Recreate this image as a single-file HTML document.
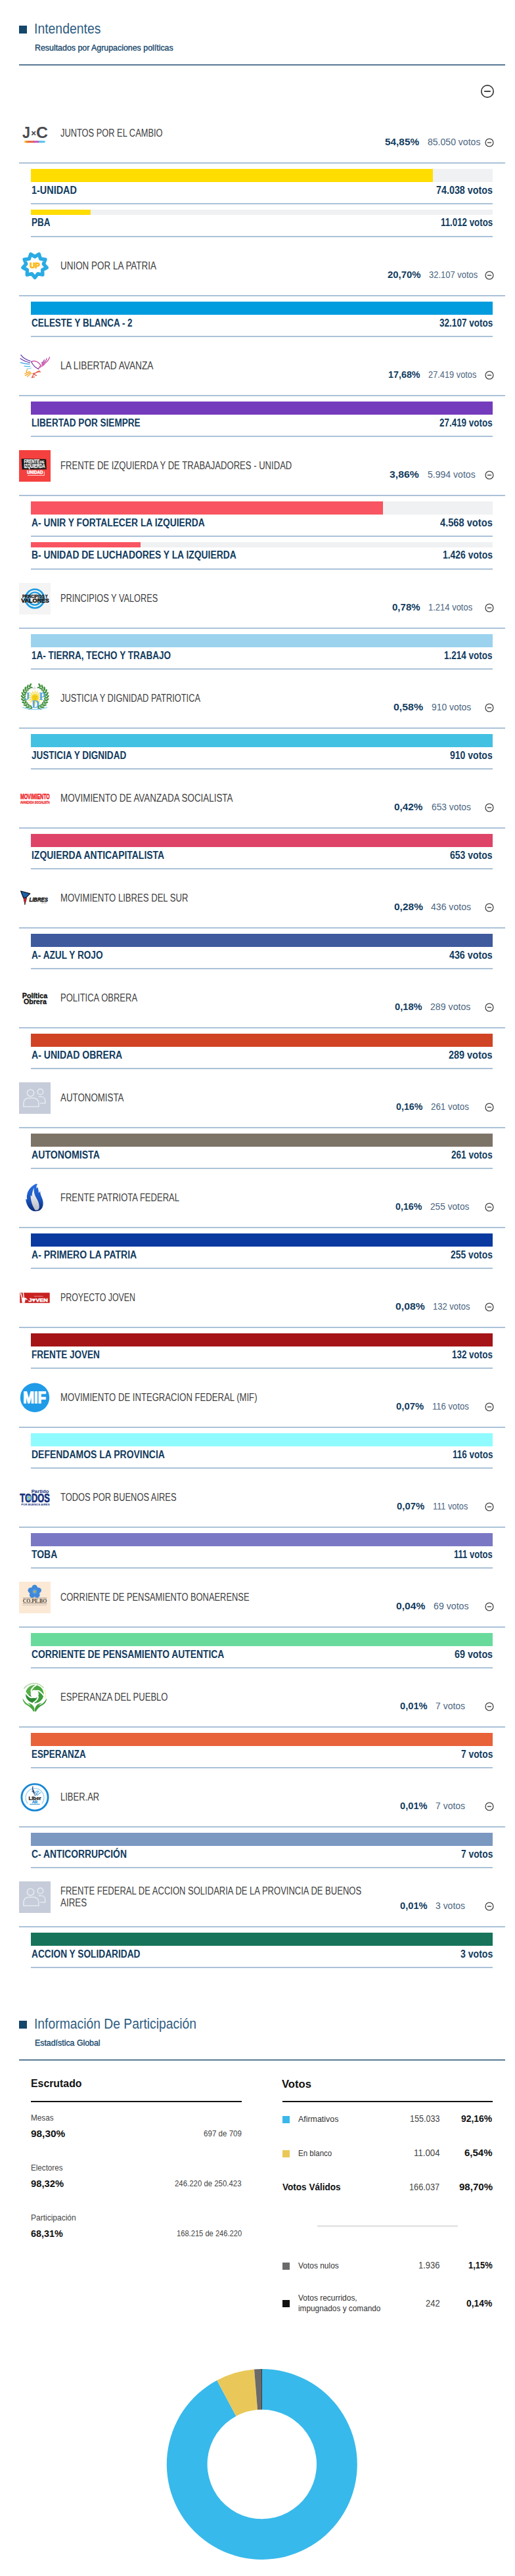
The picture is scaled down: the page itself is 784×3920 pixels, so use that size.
<!DOCTYPE html>
<html lang="es"><head><meta charset="utf-8"><title>Resultados - Intendentes</title>
<style>
html,body{margin:0;padding:0;background:#fff}
body{font-family:"Liberation Sans",sans-serif;color:#15466b}
.page{position:relative;width:784px;height:3920px;overflow:hidden;background:#fff}
.t{display:inline-block;white-space:nowrap;vertical-align:baseline}
.t>span{display:inline-block;transform-origin:0 50%;white-space:nowrap}
.sq{position:absolute;width:12px;height:12px;background:#15466b}
h2.ttl,p.sub{position:absolute;margin:0;font-weight:400;white-space:nowrap}
h2.ttl{font-size:22px;line-height:30px;color:#2f5d81}
p.sub{font-size:13px;line-height:18px;color:#15466b;-webkit-text-stroke:0.35px #15466b}
.hr{position:absolute;left:29px;width:740px;height:2px;background:linear-gradient(#1d4a6d 0,#1d4a6d 50%,rgba(29,74,109,.45) 50%)}
.tgl{position:absolute;width:22px;height:22px}
.tgl svg{display:block}
.list{position:absolute;left:0;width:784px}
.party{display:block;margin:0}
.ph{position:relative;margin-left:29px;width:740px;height:88px;border-bottom:2px solid #abc2d8}
.logo{position:absolute;left:0;top:20px;width:48px;height:48px}
.logo svg{display:block}
.pn{position:absolute;left:62.6px;top:34.6px;font-size:15.6px;line-height:18.3px;color:#3e3e3e}
.pn.two{top:26px}
.pr{position:absolute;left:529.4px;width:200px;top:47.5px;height:18px;display:flex;justify-content:center;align-items:baseline;white-space:nowrap;line-height:18px}
.pct{font-size:14.5px;font-weight:700;color:#123c60;margin-right:12.6px}
.pv{font-size:14px;color:#4b6580}
.ic{position:absolute;left:708.6px;top:50.5px}
.rows{list-style:none;margin:0 0 0 47px;padding:0;width:703px}
.row{height:52px;padding-top:8px;border-bottom:2px solid #abc2d8}
.row.sm{height:40px}
.track{height:20px;background:#f0f1f3}
.row.sm .track{height:7.5px}
.fill{height:100%}
.rl{position:relative;height:32px}
.ln,.lv{position:absolute;top:3.9px;font-size:15.6px;font-weight:700;line-height:17px;color:#123c60}
.ln{left:0.6px}
.lv{right:0}
.abs{position:absolute;white-space:nowrap;margin:0}
.bl{position:absolute;height:2px;background:#111}
.gl{position:absolute;height:3px;background:#e6e6e6}
.lsq{position:absolute;width:11px;height:11px}

</style></head>
<body>
<div class="page">
<div class="sq" style="left:29px;top:39px"></div>
<h2 class="ttl" style="left:52px;top:28.9px"><span class="t" style="width:101.40px"><span style="transform:scaleX(0.8819)">Intendentes</span></span></h2>
<p class="sub" style="left:52.6px;top:64.4px"><span class="t" style="width:210.70px"><span style="transform:scaleX(0.9528)">Resultados por Agrupaciones políticas</span></span></p>
<div class="hr" style="top:98px"></div>
<div class="tgl" style="left:730.7px;top:128px"><svg width="22" height="22" viewBox="0 0 22 22"><circle cx="11" cy="11" r="9.2" fill="none" stroke="#3a3a3a" stroke-width="1.7"/><path d="M6.2 11H15.8" stroke="#3a3a3a" stroke-width="1.9"/></svg></div>
<div class="list" style="top:159px">
<section class="party">
<header class="ph"><div class="logo"><svg width="48" height="48" viewBox="0 0 48 48"><g font-family="Liberation Sans, sans-serif" font-weight="700" fill="#4b4b4f"><text x="5.1" y="30.8" font-size="24" textLength="12" lengthAdjust="spacingAndGlyphs">J</text><text x="26" y="30.8" font-size="24" textLength="18" lengthAdjust="spacingAndGlyphs">C</text><text x="18.4" y="28" font-size="12.5" fill="#4b4b4f" stroke="#4b4b4f" stroke-width="0.3">×</text></g><rect x="8.1" y="35.3" width="7" height="2.9" rx="1.45" fill="#f6a623"/><rect x="12" y="35.3" width="11" height="2.9" fill="#ea5b3a"/><rect x="22" y="35.3" width="9" height="2.9" fill="#c64fb3"/><rect x="30" y="35.3" width="9.9" height="2.9" rx="1.45" fill="#5bc2ea"/><rect x="30" y="35.3" width="5" height="2.9" fill="#5bc2ea"/><rect x="11" y="35.3" width="3" height="2.9" fill="#f08a2c"/></svg></div><div class="pn"><span class="t" style="width:155.50px"><span style="transform:scaleX(0.8232)">JUNTOS POR EL CAMBIO</span></span></div><div class="pr"><b class="pct"><span class="t" style="width:52.10px"><span style="transform:scaleX(1.0592)">54,85%</span></span></b><span class="pv"><span class="t" style="width:80.40px"><span style="transform:scaleX(1.0028)">85.050 votos</span></span></span></div><svg class="ic" width="14" height="14" viewBox="0 0 14 14"><circle cx="7" cy="7" r="5.95" fill="none" stroke="#444" stroke-width="1.3"/><path d="M3.9 7H10.1" stroke="#444" stroke-width="1.4"/></svg></header>
<ul class="rows">
<li class="row"><div class="track"><div class="fill" style="width:87.052%;background:#ffdd00"></div></div><div class="rl"><span class="ln"><span class="t" style="width:68.90px"><span style="transform:scaleX(0.9246)">1-UNIDAD</span></span></span><span class="lv"><span class="t" style="width:86.00px"><span style="transform:scaleX(0.9186)">74.038 votos</span></span></span></div></li>
<li class="row sm"><div class="track"><div class="fill" style="width:12.948%;background:#ffdd00"></div></div><div class="rl"><span class="ln"><span class="t" style="width:28.50px"><span style="transform:scaleX(0.8653)">PBA</span></span></span><span class="lv"><span class="t" style="width:79.20px"><span style="transform:scaleX(0.8538)">11.012 votos</span></span></span></div></li>
</ul></section>
<section class="party">
<header class="ph"><div class="logo"><svg width="48" height="48" viewBox="0 0 48 48"><polygon points="24.05,41.45 19.47,35.64 12.22,37.15 12.45,29.75 5.93,26.25 10.85,20.72 8.12,13.85 15.44,12.79 17.76,5.76 24.05,9.65 30.34,5.76 32.66,12.79 39.98,13.85 37.25,20.72 42.17,26.25 35.65,29.75 35.88,37.15 28.63,35.64" fill="#fff" stroke="#2aabe4" stroke-width="5.4" stroke-linejoin="round"/><text x="24.05" y="27.4" font-family="Liberation Sans, sans-serif" font-weight="700" font-size="11.4" fill="#fbb915" stroke="#fbb915" stroke-width="1" text-anchor="middle" textLength="15.4" lengthAdjust="spacingAndGlyphs">UP</text></svg></div><div class="pn"><span class="t" style="width:146.00px"><span style="transform:scaleX(0.8625)">UNION POR LA PATRIA</span></span></div><div class="pr"><b class="pct"><span class="t" style="width:50.50px"><span style="transform:scaleX(1.0267)">20,70%</span></span></b><span class="pv"><span class="t" style="width:74.20px"><span style="transform:scaleX(0.9255)">32.107 votos</span></span></span></div><svg class="ic" width="14" height="14" viewBox="0 0 14 14"><circle cx="7" cy="7" r="5.95" fill="none" stroke="#444" stroke-width="1.3"/><path d="M3.9 7H10.1" stroke="#444" stroke-width="1.4"/></svg></header>
<ul class="rows">
<li class="row"><div class="track"><div class="fill" style="width:100.000%;background:#009cde"></div></div><div class="rl"><span class="ln"><span class="t" style="width:153.60px"><span style="transform:scaleX(0.8619)">CELESTE Y BLANCA - 2</span></span></span><span class="lv"><span class="t" style="width:81.40px"><span style="transform:scaleX(0.8694)">32.107 votos</span></span></span></div></li>
</ul></section>
<section class="party">
<header class="ph"><div class="logo"><svg width="48" height="48" viewBox="0 0 48 48"><g fill="none" stroke-linecap="round" stroke-width="1.25"><path d="M2.8 7.2C6 11.5 11 14.8 17 16.4" stroke="#5a3aa6"/><path d="M2 12.6C6 15.6 11 17.8 16.4 18.8" stroke="#6a3fb0"/><path d="M2.2 18.6C6.5 20.2 11 21 15.8 21.2" stroke="#3b9fe0"/><path d="M8 24.2C10.8 24.8 13.6 24.8 16.8 24.4" stroke="#45b4ea"/><path d="M12 28C14 28 16 27.6 18.6 27" stroke="#7fd0f2"/><path d="M18.6 17.4C24 15 30 17.4 33 23.2" stroke="#c23b9a"/><path d="M18.6 17.6C21 22.6 25 26.6 29.6 28.6" stroke="#7a3aa8"/><path d="M33 23.2C31 25.4 30 27 29.6 28.6" stroke="#c23b9a"/><path d="M34.6 22.8C40 20.4 44.6 16 46.6 10.6" stroke="#c23b9a"/><path d="M35 21C38.6 19 41.4 16.2 42 12.6" stroke="#b6399f"/><path d="M34.4 19.4C36.6 18.4 38 16.6 38.4 14.6" stroke="#a63aa6"/><path d="M32 26C34 25 36.4 23.6 38.6 21.6" stroke="#c9409a" stroke-width="1.1"/><path d="M12.4 29.4C11.2 31 11 33 11.6 34.6" stroke="#f6a623"/><path d="M17.4 33.6L9.6 38.6M18.6 35L12.6 40M15.8 32.4L8.6 36" stroke="#f6a623" stroke-width="1.3"/><path d="M21 35.6C24 35.4 27.6 33.6 31 31.4" stroke="#e0503a" stroke-width="1.3"/><path d="M27.4 32.6L32.6 32.8M22.6 36.6L26.4 38.4M22 37L19.6 41.4L23.4 40.6" stroke="#e04a3a" stroke-width="1.2"/></g></svg></div><div class="pn"><span class="t" style="width:141.50px"><span style="transform:scaleX(0.8793)">LA LIBERTAD AVANZA</span></span></div><div class="pr"><b class="pct"><span class="t" style="width:48.60px"><span style="transform:scaleX(0.9881)">17,68%</span></span></b><span class="pv"><span class="t" style="width:73.40px"><span style="transform:scaleX(0.9155)">27.419 votos</span></span></span></div><svg class="ic" width="14" height="14" viewBox="0 0 14 14"><circle cx="7" cy="7" r="5.95" fill="none" stroke="#444" stroke-width="1.3"/><path d="M3.9 7H10.1" stroke="#444" stroke-width="1.4"/></svg></header>
<ul class="rows">
<li class="row"><div class="track"><div class="fill" style="width:100.000%;background:#753bbd"></div></div><div class="rl"><span class="ln"><span class="t" style="width:165.60px"><span style="transform:scaleX(0.8701)">LIBERTAD POR SIEMPRE</span></span></span><span class="lv"><span class="t" style="width:80.60px"><span style="transform:scaleX(0.8609)">27.419 votos</span></span></span></div></li>
</ul></section>
<section class="party">
<header class="ph"><div class="logo"><svg width="48" height="48" viewBox="0 0 48 48"><rect width="48" height="48" fill="#f4413f"/><polygon points="3.6,13 41.2,13.8 41.8,29.2 4.6,29.6" fill="#161616"/><g font-family="Liberation Sans, sans-serif" font-weight="700" fill="#fff" stroke="#fff" stroke-width="0.25"><text x="7.4" y="20.3" font-size="8.2" textLength="23.8" lengthAdjust="spacingAndGlyphs">FRENTE</text><text x="31.8" y="20.1" font-size="5" textLength="6.8" lengthAdjust="spacingAndGlyphs">DE</text><text x="7.4" y="26.9" font-size="8.2" textLength="32.4" lengthAdjust="spacingAndGlyphs">IZQUIERDA</text><text x="12" y="36.2" font-size="7.2" stroke-width="0.4" textLength="24.6" lengthAdjust="spacingAndGlyphs">UNIDAD</text></g><path d="M13 38.4H38.4V32.4" fill="none" stroke="#fff" stroke-width="0.8"/></svg></div><div class="pn"><span class="t" style="width:352.30px"><span style="transform:scaleX(0.8383)">FRENTE DE IZQUIERDA Y DE TRABAJADORES - UNIDAD</span></span></div><div class="pr"><b class="pct"><span class="t" style="width:44.70px"><span style="transform:scaleX(1.0869)">3,86%</span></span></b><span class="pv"><span class="t" style="width:72.70px"><span style="transform:scaleX(1.0043)">5.994 votos</span></span></span></div><svg class="ic" width="14" height="14" viewBox="0 0 14 14"><circle cx="7" cy="7" r="5.95" fill="none" stroke="#444" stroke-width="1.3"/><path d="M3.9 7H10.1" stroke="#444" stroke-width="1.4"/></svg></header>
<ul class="rows">
<li class="row"><div class="track"><div class="fill" style="width:76.210%;background:#f95461"></div></div><div class="rl"><span class="ln"><span class="t" style="width:263.70px"><span style="transform:scaleX(0.8865)">A- UNIR Y FORTALECER LA IZQUIERDA</span></span></span><span class="lv"><span class="t" style="width:79.80px"><span style="transform:scaleX(0.9393)">4.568 votos</span></span></span></div></li>
<li class="row sm"><div class="track"><div class="fill" style="width:23.790%;background:#f95461"></div></div><div class="rl"><span class="ln"><span class="t" style="width:311.70px"><span style="transform:scaleX(0.8891)">B- UNIDAD DE LUCHADORES Y LA IZQUIERDA</span></span></span><span class="lv"><span class="t" style="width:75.90px"><span style="transform:scaleX(0.8934)">1.426 votos</span></span></span></div></li>
</ul></section>
<section class="party">
<header class="ph"><div class="logo"><svg width="48" height="48" viewBox="0 0 48 48"><rect width="48" height="48" fill="#f4f4f4"/><circle cx="24" cy="24" r="14.2" fill="none" stroke="#1b9ce2" stroke-width="2.6"/><circle cx="24" cy="24" r="9.6" fill="none" stroke="#1b9ce2" stroke-width="2.4"/><g font-family="Liberation Sans, sans-serif" font-weight="700" fill="#111" stroke="#111"><text x="5" y="23" font-size="7.4" stroke-width="0.35" textLength="38.6" lengthAdjust="spacingAndGlyphs">PRINCIPIOS Y</text><text x="3.2" y="30" font-size="8.6" stroke-width="0.5" textLength="42.6" lengthAdjust="spacingAndGlyphs">VALORES</text></g></svg></div><div class="pn"><span class="t" style="width:148.30px"><span style="transform:scaleX(0.8188)">PRINCIPIOS Y VALORES</span></span></div><div class="pr"><b class="pct"><span class="t" style="width:42.70px"><span style="transform:scaleX(1.0383)">0,78%</span></span></b><span class="pv"><span class="t" style="width:67.20px"><span style="transform:scaleX(0.9283)">1.214 votos</span></span></span></div><svg class="ic" width="14" height="14" viewBox="0 0 14 14"><circle cx="7" cy="7" r="5.95" fill="none" stroke="#444" stroke-width="1.3"/><path d="M3.9 7H10.1" stroke="#444" stroke-width="1.4"/></svg></header>
<ul class="rows">
<li class="row"><div class="track"><div class="fill" style="width:100.000%;background:#9bd3ef"></div></div><div class="rl"><span class="ln"><span class="t" style="width:212.00px"><span style="transform:scaleX(0.8666)">1A- TIERRA, TECHO Y TRABAJO</span></span></span><span class="lv"><span class="t" style="width:73.60px"><span style="transform:scaleX(0.8664)">1.214 votos</span></span></span></div></li>
</ul></section>
<section class="party">
<header class="ph"><div class="logo"><svg width="48" height="48" viewBox="0 0 48 48"><g fill="#3f8f3a"><ellipse cx="31.39" cy="39.40" rx="3.3" ry="1.25" transform="rotate(196.0 31.39 39.40)"/><ellipse cx="30.12" cy="36.25" rx="2.8" ry="1.1" transform="rotate(120.0 30.12 36.25)"/><ellipse cx="35.38" cy="37.21" rx="3.3" ry="1.25" transform="rotate(182.4 35.38 37.21)"/><ellipse cx="33.40" cy="34.45" rx="2.8" ry="1.1" transform="rotate(106.4 33.40 34.45)"/><ellipse cx="38.73" cy="34.15" rx="3.3" ry="1.25" transform="rotate(168.8 38.73 34.15)"/><ellipse cx="36.16" cy="31.92" rx="2.8" ry="1.1" transform="rotate(92.8 36.16 31.92)"/><ellipse cx="41.28" cy="30.38" rx="3.3" ry="1.25" transform="rotate(155.2 41.28 30.38)"/><ellipse cx="38.25" cy="28.82" rx="2.8" ry="1.1" transform="rotate(79.2 38.25 28.82)"/><ellipse cx="42.86" cy="26.11" rx="3.3" ry="1.25" transform="rotate(141.6 42.86 26.11)"/><ellipse cx="39.56" cy="25.32" rx="2.8" ry="1.1" transform="rotate(65.6 39.56 25.32)"/><ellipse cx="43.40" cy="21.60" rx="3.3" ry="1.25" transform="rotate(128.0 43.40 21.60)"/><ellipse cx="40.00" cy="21.60" rx="2.8" ry="1.1" transform="rotate(52.0 40.00 21.60)"/><ellipse cx="42.86" cy="17.09" rx="3.3" ry="1.25" transform="rotate(114.4 42.86 17.09)"/><ellipse cx="39.56" cy="17.88" rx="2.8" ry="1.1" transform="rotate(38.4 39.56 17.88)"/><ellipse cx="41.28" cy="12.82" rx="3.3" ry="1.25" transform="rotate(100.8 41.28 12.82)"/><ellipse cx="38.25" cy="14.38" rx="2.8" ry="1.1" transform="rotate(24.8 38.25 14.38)"/><ellipse cx="38.73" cy="9.05" rx="3.3" ry="1.25" transform="rotate(87.2 38.73 9.05)"/><ellipse cx="36.16" cy="11.28" rx="2.8" ry="1.1" transform="rotate(11.2 36.16 11.28)"/><ellipse cx="35.38" cy="5.99" rx="3.3" ry="1.25" transform="rotate(73.6 35.38 5.99)"/><ellipse cx="33.40" cy="8.75" rx="2.8" ry="1.1" transform="rotate(-2.4 33.40 8.75)"/><ellipse cx="31.39" cy="3.80" rx="3.3" ry="1.25" transform="rotate(60.0 31.39 3.80)"/><ellipse cx="30.12" cy="6.95" rx="2.8" ry="1.1" transform="rotate(-16.0 30.12 6.95)"/><ellipse cx="17.01" cy="39.40" rx="3.3" ry="1.25" transform="rotate(164.0 17.01 39.40)"/><ellipse cx="18.28" cy="36.25" rx="2.8" ry="1.1" transform="rotate(240.0 18.28 36.25)"/><ellipse cx="13.02" cy="37.21" rx="3.3" ry="1.25" transform="rotate(177.6 13.02 37.21)"/><ellipse cx="15.00" cy="34.45" rx="2.8" ry="1.1" transform="rotate(253.6 15.00 34.45)"/><ellipse cx="9.67" cy="34.15" rx="3.3" ry="1.25" transform="rotate(191.2 9.67 34.15)"/><ellipse cx="12.24" cy="31.92" rx="2.8" ry="1.1" transform="rotate(267.2 12.24 31.92)"/><ellipse cx="7.12" cy="30.38" rx="3.3" ry="1.25" transform="rotate(204.8 7.12 30.38)"/><ellipse cx="10.15" cy="28.82" rx="2.8" ry="1.1" transform="rotate(280.8 10.15 28.82)"/><ellipse cx="5.54" cy="26.11" rx="3.3" ry="1.25" transform="rotate(218.4 5.54 26.11)"/><ellipse cx="8.84" cy="25.32" rx="2.8" ry="1.1" transform="rotate(294.4 8.84 25.32)"/><ellipse cx="5.00" cy="21.60" rx="3.3" ry="1.25" transform="rotate(232.0 5.00 21.60)"/><ellipse cx="8.40" cy="21.60" rx="2.8" ry="1.1" transform="rotate(308.0 8.40 21.60)"/><ellipse cx="5.54" cy="17.09" rx="3.3" ry="1.25" transform="rotate(245.6 5.54 17.09)"/><ellipse cx="8.84" cy="17.88" rx="2.8" ry="1.1" transform="rotate(321.6 8.84 17.88)"/><ellipse cx="7.12" cy="12.82" rx="3.3" ry="1.25" transform="rotate(259.2 7.12 12.82)"/><ellipse cx="10.15" cy="14.38" rx="2.8" ry="1.1" transform="rotate(335.2 10.15 14.38)"/><ellipse cx="9.67" cy="9.05" rx="3.3" ry="1.25" transform="rotate(272.8 9.67 9.05)"/><ellipse cx="12.24" cy="11.28" rx="2.8" ry="1.1" transform="rotate(348.8 12.24 11.28)"/><ellipse cx="13.02" cy="5.99" rx="3.3" ry="1.25" transform="rotate(286.4 13.02 5.99)"/><ellipse cx="15.00" cy="8.75" rx="2.8" ry="1.1" transform="rotate(362.4 15.00 8.75)"/><ellipse cx="17.01" cy="3.80" rx="3.3" ry="1.25" transform="rotate(300.0 17.01 3.80)"/><ellipse cx="18.28" cy="6.95" rx="2.8" ry="1.1" transform="rotate(376.0 18.28 6.95)"/></g><polygon points="24.30,10.00 25.51,16.52 29.12,10.96 27.74,17.44 33.21,13.69 29.46,19.16 35.94,17.78 30.38,21.39 36.90,22.60 30.38,23.81 35.94,27.42 29.46,26.04 33.21,31.51 27.74,27.76 29.12,34.24 25.51,28.68 24.30,35.20 23.09,28.68 19.48,34.24 20.86,27.76 15.39,31.51 19.14,26.04 12.66,27.42 18.22,23.81 11.70,22.60 18.22,21.39 12.66,17.78 19.14,19.16 15.39,13.69 20.86,17.44 19.48,10.96 23.09,16.52" fill="#f3dd5a"/><polygon points="26.17,13.18 26.60,17.06 29.63,14.62 28.54,18.36 32.28,17.27 29.84,20.30 33.72,20.73 30.30,22.60 33.72,24.47 29.84,24.90 32.28,27.93 28.54,26.84 29.63,30.58 26.60,28.14 26.17,32.02 24.30,28.60 22.43,32.02 22.00,28.14 18.97,30.58 20.06,26.84 16.32,27.93 18.76,24.90 14.88,24.47 18.30,22.60 14.88,20.73 18.76,20.30 16.32,17.27 20.06,18.36 18.97,14.62 22.00,17.06 22.43,13.18 24.30,16.60" fill="#fbefb0"/><circle cx="24.3" cy="22.6" r="5.4" fill="#f6d21c"/><path d="M22 21.4h1.6M25.2 21.4h1.6M22.8 24.8h3" stroke="#b88d12" stroke-width="0.7"/><g font-family="Liberation Serif, serif" font-weight="700" fill="#4aa5e2"><text x="8.6" y="26.4" font-size="16">J</text><text x="30.4" y="26.4" font-size="16">P</text><text x="19.2" y="38" font-size="16.4">D</text></g><path d="M19 9.6c2-1 3.6-2.6 4.6-5 .6 1.8 1.8 3 3.6 3.8-2 .4-3.4 1.2-4 2.6-.8-1.200-2.200-1.600-4.200-1.400z" fill="#e4e4e8"/><path d="M5.400 37.200C14 41.600 34 41.600 43 37.200" fill="none" stroke="#8fd0f0" stroke-width="1.5"/></svg></div><div class="pn"><span class="t" style="width:213.00px"><span style="transform:scaleX(0.8231)">JUSTICIA Y DIGNIDAD PATRIOTICA</span></span></div><div class="pr"><b class="pct"><span class="t" style="width:45.10px"><span style="transform:scaleX(1.0967)">0,58%</span></span></b><span class="pv"><span class="t" style="width:60.20px"><span style="transform:scaleX(0.9915)">910 votos</span></span></span></div><svg class="ic" width="14" height="14" viewBox="0 0 14 14"><circle cx="7" cy="7" r="5.95" fill="none" stroke="#444" stroke-width="1.3"/><path d="M3.9 7H10.1" stroke="#444" stroke-width="1.4"/></svg></header>
<ul class="rows">
<li class="row"><div class="track"><div class="fill" style="width:100.000%;background:#43c1e3"></div></div><div class="rl"><span class="ln"><span class="t" style="width:144.20px"><span style="transform:scaleX(0.8683)">JUSTICIA Y DIGNIDAD</span></span></span><span class="lv"><span class="t" style="width:64.70px"><span style="transform:scaleX(0.8992)">910 votos</span></span></span></div></li>
</ul></section>
<section class="party">
<header class="ph"><div class="logo"><svg width="48" height="48" viewBox="0 0 48 48"><g font-family="Liberation Sans, sans-serif" font-weight="700" fill="#f0181c" stroke="#f0181c" stroke-width="0.45"><text x="1.9" y="24.5" font-size="11.6" textLength="44.8" lengthAdjust="spacingAndGlyphs">MOVIMIENTO</text><text x="1.9" y="32.4" font-size="6.2" stroke-width="0.3" textLength="44.8" lengthAdjust="spacingAndGlyphs">AVANZADA SOCIALISTA</text></g></svg></div><div class="pn"><span class="t" style="width:262.50px"><span style="transform:scaleX(0.8590)">MOVIMIENTO DE AVANZADA SOCIALISTA</span></span></div><div class="pr"><b class="pct"><span class="t" style="width:43.50px"><span style="transform:scaleX(1.0578)">0,42%</span></span></b><span class="pv"><span class="t" style="width:59.80px"><span style="transform:scaleX(0.9849)">653 votos</span></span></span></div><svg class="ic" width="14" height="14" viewBox="0 0 14 14"><circle cx="7" cy="7" r="5.95" fill="none" stroke="#444" stroke-width="1.3"/><path d="M3.9 7H10.1" stroke="#444" stroke-width="1.4"/></svg></header>
<ul class="rows">
<li class="row"><div class="track"><div class="fill" style="width:100.000%;background:#de4468"></div></div><div class="rl"><span class="ln"><span class="t" style="width:202.10px"><span style="transform:scaleX(0.8939)">IZQUIERDA ANTICAPITALISTA</span></span></span><span class="lv"><span class="t" style="width:64.60px"><span style="transform:scaleX(0.8978)">653 votos</span></span></span></div></li>
</ul></section>
<section class="party">
<header class="ph"><div class="logo"><svg width="48" height="48" viewBox="0 0 48 48"><polygon points="2.6,13 16.8,16.8 10.2,23.4 6.6,23.2" fill="#1d5fa8" stroke="#111" stroke-width="1.2" stroke-linejoin="round"/><polygon points="6.800,23.400 11.600,23.400 8.900,33.800" fill="#e8212b" stroke="#111" stroke-width="0.7" stroke-linejoin="round"/><text x="15.4" y="28.6" font-family="Liberation Sans, sans-serif" font-weight="700" font-style="italic" font-size="8.600" fill="#111" stroke="#111" stroke-width="0.45" textLength="28.600" lengthAdjust="spacingAndGlyphs">LIBRES</text><text x="34" y="32.300" font-family="Liberation Sans, sans-serif" font-size="2.600" fill="#666" textLength="7.600" lengthAdjust="spacingAndGlyphs">DEL SUR</text></svg></div><div class="pn"><span class="t" style="width:194.50px"><span style="transform:scaleX(0.8407)">MOVIMIENTO LIBRES DEL SUR</span></span></div><div class="pr"><b class="pct"><span class="t" style="width:43.90px"><span style="transform:scaleX(1.0675)">0,28%</span></span></b><span class="pv"><span class="t" style="width:61.00px"><span style="transform:scaleX(1.0046)">436 votos</span></span></span></div><svg class="ic" width="14" height="14" viewBox="0 0 14 14"><circle cx="7" cy="7" r="5.95" fill="none" stroke="#444" stroke-width="1.3"/><path d="M3.9 7H10.1" stroke="#444" stroke-width="1.4"/></svg></header>
<ul class="rows">
<li class="row"><div class="track"><div class="fill" style="width:100.000%;background:#3f5a9d"></div></div><div class="rl"><span class="ln"><span class="t" style="width:108.50px"><span style="transform:scaleX(0.8736)">A- AZUL Y ROJO</span></span></span><span class="lv"><span class="t" style="width:65.80px"><span style="transform:scaleX(0.9145)">436 votos</span></span></span></div></li>
</ul></section>
<section class="party">
<header class="ph"><div class="logo"><svg width="48" height="48" viewBox="0 0 48 48"><g font-family="Liberation Sans, sans-serif" font-weight="700" fill="#111" stroke="#111" stroke-width="0.3"><text x="4.800" y="24" font-size="10" textLength="38.400" lengthAdjust="spacingAndGlyphs">Política</text><text x="6.900" y="33.200" font-size="10" textLength="35" lengthAdjust="spacingAndGlyphs">Obrera</text></g></svg></div><div class="pn"><span class="t" style="width:117.10px"><span style="transform:scaleX(0.8341)">POLITICA OBRERA</span></span></div><div class="pr"><b class="pct"><span class="t" style="width:41.60px"><span style="transform:scaleX(1.0116)">0,18%</span></span></b><span class="pv"><span class="t" style="width:61.40px"><span style="transform:scaleX(1.0112)">289 votos</span></span></span></div><svg class="ic" width="14" height="14" viewBox="0 0 14 14"><circle cx="7" cy="7" r="5.95" fill="none" stroke="#444" stroke-width="1.3"/><path d="M3.9 7H10.1" stroke="#444" stroke-width="1.4"/></svg></header>
<ul class="rows">
<li class="row"><div class="track"><div class="fill" style="width:100.000%;background:#d04425"></div></div><div class="rl"><span class="ln"><span class="t" style="width:138.20px"><span style="transform:scaleX(0.9012)">A- UNIDAD OBRERA</span></span></span><span class="lv"><span class="t" style="width:66.60px"><span style="transform:scaleX(0.9256)">289 votos</span></span></span></div></li>
</ul></section>
<section class="party">
<header class="ph"><div class="logo"><svg width="48" height="48" viewBox="0 0 48 48"><rect width="48" height="48" fill="#c6ccd9"/><g fill="none" stroke="#e6e9f0" stroke-width="1.6"><circle cx="17.5" cy="16.2" r="5.2"/><path d="M6.9 37V31.6C6.9 27.200 10.200 24 14.600 24H22.200C26.600 24 29.900 27.200 29.900 31.600V37Z"/><circle cx="32.4" cy="14.400" r="4.300"/><path d="M29.600 21.800H33.600C37.200 21.800 39.800 24.400 39.800 28V31.800H32"/></g></svg></div><div class="pn"><span class="t" style="width:96.50px"><span style="transform:scaleX(0.8546)">AUTONOMISTA</span></span></div><div class="pr"><b class="pct"><span class="t" style="width:40.40px"><span style="transform:scaleX(0.9824)">0,16%</span></span></b><span class="pv"><span class="t" style="width:57.90px"><span style="transform:scaleX(0.9536)">261 votos</span></span></span></div><svg class="ic" width="14" height="14" viewBox="0 0 14 14"><circle cx="7" cy="7" r="5.95" fill="none" stroke="#444" stroke-width="1.3"/><path d="M3.9 7H10.1" stroke="#444" stroke-width="1.4"/></svg></header>
<ul class="rows">
<li class="row"><div class="track"><div class="fill" style="width:100.000%;background:#7d7468"></div></div><div class="rl"><span class="ln"><span class="t" style="width:103.90px"><span style="transform:scaleX(0.9063)">AUTONOMISTA</span></span></span><span class="lv"><span class="t" style="width:62.70px"><span style="transform:scaleX(0.8714)">261 votos</span></span></span></div></li>
</ul></section>
<section class="party">
<header class="ph"><div class="logo"><svg width="48" height="48" viewBox="0 0 48 48"><defs><linearGradient id="fl1" x1="0" y1="0" x2="0" y2="1"><stop offset="0" stop-color="#2a6fe0"/><stop offset="0.55" stop-color="#1a55c0"/><stop offset="1" stop-color="#0b2a78"/></linearGradient><linearGradient id="fl2" x1="0" y1="0" x2="0" y2="1"><stop offset="0" stop-color="#ffffff"/><stop offset="1" stop-color="#b9bcc4"/></linearGradient></defs><path d="M25.600 2.600C19 5.600 14.200 11.600 12.600 17.200 11.400 21 11.800 24 12.400 26.400L10.200 25.600C10.600 32 13.600 39.600 19.600 43 22.600 44.600 28.600 44.800 32 42.600 36.400 39.600 37.600 33 36 27.200 34.600 22.200 32 19 32.200 13.600L30 16.400C29.600 13 29.400 10 28.200 7.600L26.600 9.600C26.400 7 26.200 4.800 28.200 3.200 27.400 2.600 26.400 2.400 25.600 2.600Z" fill="url(#fl1)"/><path d="M22.600 8.600C20.600 13.600 19.400 17.600 19.600 21.600L17.600 20C17.600 27.600 20 36 24.600 42.600 28 43.200 30.600 41.600 30.800 38 31 32.600 28.600 27.600 26 23.600 23.600 19.600 22.200 14.600 22.600 8.600Z" fill="url(#fl2)"/></svg></div><div class="pn"><span class="t" style="width:181.00px"><span style="transform:scaleX(0.8356)">FRENTE PATRIOTA FEDERAL</span></span></div><div class="pr"><b class="pct"><span class="t" style="width:40.40px"><span style="transform:scaleX(0.9824)">0,16%</span></span></b><span class="pv"><span class="t" style="width:59.40px"><span style="transform:scaleX(0.9783)">255 votos</span></span></span></div><svg class="ic" width="14" height="14" viewBox="0 0 14 14"><circle cx="7" cy="7" r="5.95" fill="none" stroke="#444" stroke-width="1.3"/><path d="M3.9 7H10.1" stroke="#444" stroke-width="1.4"/></svg></header>
<ul class="rows">
<li class="row"><div class="track"><div class="fill" style="width:100.000%;background:#0a3aa0"></div></div><div class="rl"><span class="ln"><span class="t" style="width:160.20px"><span style="transform:scaleX(0.8991)">A- PRIMERO LA PATRIA</span></span></span><span class="lv"><span class="t" style="width:63.90px"><span style="transform:scaleX(0.8881)">255 votos</span></span></span></div></li>
</ul></section>
<section class="party">
<header class="ph"><div class="logo"><svg width="48" height="48" viewBox="0 0 48 48"><rect x="1.300" y="16.200" width="45.400" height="15.600" fill="#c9211f"/><path d="M2.600 17.200l2.200 7.400M6.400 16.800l1 7.400M9.600 24.600l2.400 2.200" stroke="#fff" stroke-width="1.500" stroke-linecap="round" fill="none"/><path d="M3.600 24.200c2-.8 5-.6 6.600.8l-1.600 6.800H4.600z" fill="#fff"/><g font-family="Liberation Sans, sans-serif" fill="#fff" font-weight="700"><text x="14.600" y="30" font-size="8" stroke="#fff" stroke-width="0.500" textLength="29.400" lengthAdjust="spacingAndGlyphs">J♥VEN</text><text x="23.200" y="22.400" font-size="2.400" textLength="13.600" lengthAdjust="spacingAndGlyphs">PROYECTO</text></g></svg></div><div class="pn"><span class="t" style="width:114.00px"><span style="transform:scaleX(0.7941)">PROYECTO JOVEN</span></span></div><div class="pr"><b class="pct"><span class="t" style="width:44.70px"><span style="transform:scaleX(1.0869)">0,08%</span></span></b><span class="pv"><span class="t" style="width:56.40px"><span style="transform:scaleX(0.9289)">132 votos</span></span></span></div><svg class="ic" width="14" height="14" viewBox="0 0 14 14"><circle cx="7" cy="7" r="5.95" fill="none" stroke="#444" stroke-width="1.3"/><path d="M3.9 7H10.1" stroke="#444" stroke-width="1.4"/></svg></header>
<ul class="rows">
<li class="row"><div class="track"><div class="fill" style="width:100.000%;background:#a51417"></div></div><div class="rl"><span class="ln"><span class="t" style="width:103.90px"><span style="transform:scaleX(0.8689)">FRENTE JOVEN</span></span></span><span class="lv"><span class="t" style="width:61.90px"><span style="transform:scaleX(0.8603)">132 votos</span></span></span></div></li>
</ul></section>
<section class="party">
<header class="ph"><div class="logo"><svg width="48" height="48" viewBox="0 0 48 48"><circle cx="24" cy="23.700" r="22.200" fill="#1f9be8"/><text x="6.300" y="32.400" font-family="Liberation Sans, sans-serif" font-weight="700" font-size="24.300" fill="#fff" stroke="#fff" stroke-width="1.300" textLength="34.700" lengthAdjust="spacingAndGlyphs">MIF</text></svg></div><div class="pn"><span class="t" style="width:299.50px"><span style="transform:scaleX(0.8411)">MOVIMIENTO DE INTEGRACION FEDERAL (MIF)</span></span></div><div class="pr"><b class="pct"><span class="t" style="width:42.10px"><span style="transform:scaleX(1.0237)">0,07%</span></span></b><span class="pv"><span class="t" style="width:55.90px"><span style="transform:scaleX(0.9368)">116 votos</span></span></span></div><svg class="ic" width="14" height="14" viewBox="0 0 14 14"><circle cx="7" cy="7" r="5.95" fill="none" stroke="#444" stroke-width="1.3"/><path d="M3.9 7H10.1" stroke="#444" stroke-width="1.4"/></svg></header>
<ul class="rows">
<li class="row"><div class="track"><div class="fill" style="width:100.000%;background:#8ffbff"></div></div><div class="rl"><span class="ln"><span class="t" style="width:202.90px"><span style="transform:scaleX(0.8962)">DEFENDAMOS LA PROVINCIA</span></span></span><span class="lv"><span class="t" style="width:61.50px"><span style="transform:scaleX(0.8652)">116 votos</span></span></span></div></li>
</ul></section>
<section class="party">
<header class="ph"><div class="logo"><svg width="48" height="48" viewBox="0 0 48 48"><g font-family="Liberation Sans, sans-serif" font-weight="700" fill="#17327b"><text x="18.700" y="16.800" font-size="7" textLength="26.700" lengthAdjust="spacingAndGlyphs">Partido</text><text x="1.300" y="31" font-size="18" stroke="#17327b" stroke-width="0.700" textLength="45.400" lengthAdjust="spacingAndGlyphs">TODOS</text><text x="3.200" y="36.100" font-size="3.800" textLength="43.400" lengthAdjust="spacingAndGlyphs">POR BUENOS AIRES</text></g><circle cx="15.200" cy="24.400" r="3.400" fill="#6cc4f0"/><path d="M13.600 26.600c.4-2 1.600-3.400 3.400-4" stroke="#f6c61c" stroke-width="1.400" fill="none"/></svg></div><div class="pn"><span class="t" style="width:176.50px"><span style="transform:scaleX(0.8257)">TODOS POR BUENOS AIRES</span></span></div><div class="pr"><b class="pct"><span class="t" style="width:42.10px"><span style="transform:scaleX(1.0237)">0,07%</span></span></b><span class="pv"><span class="t" style="width:53.30px"><span style="transform:scaleX(0.9089)">111 votos</span></span></span></div><svg class="ic" width="14" height="14" viewBox="0 0 14 14"><circle cx="7" cy="7" r="5.95" fill="none" stroke="#444" stroke-width="1.3"/><path d="M3.9 7H10.1" stroke="#444" stroke-width="1.4"/></svg></header>
<ul class="rows">
<li class="row"><div class="track"><div class="fill" style="width:100.000%;background:#7a78c4"></div></div><div class="rl"><span class="ln"><span class="t" style="width:39.20px"><span style="transform:scaleX(0.8928)">TOBA</span></span></span><span class="lv"><span class="t" style="width:58.80px"><span style="transform:scaleX(0.8374)">111 votos</span></span></span></div></li>
</ul></section>
<section class="party">
<header class="ph"><div class="logo"><svg width="48" height="48" viewBox="0 0 48 48"><rect width="48" height="48" fill="#fbe9d5"/><g fill="#4089da"><ellipse cx="23.700" cy="9.700" rx="4.500" ry="5.300" transform="rotate(0 23.700 15)"/><ellipse cx="23.700" cy="9.700" rx="4.500" ry="5.300" transform="rotate(72 23.700 15)"/><ellipse cx="23.700" cy="9.700" rx="4.500" ry="5.300" transform="rotate(144 23.700 15)"/><ellipse cx="23.700" cy="9.700" rx="4.500" ry="5.300" transform="rotate(216 23.700 15)"/><ellipse cx="23.700" cy="9.700" rx="4.500" ry="5.300" transform="rotate(288 23.700 15)"/></g><circle cx="23.700" cy="15" r="3.400" fill="#5aa0e6"/><circle cx="23.700" cy="15" r="1.700" fill="#c2ae3a"/><text x="5.700" y="31.500" font-family="Liberation Serif, serif" font-weight="700" font-size="7.400" fill="#4a4038" textLength="36.600" lengthAdjust="spacingAndGlyphs">CO.PE.BO</text><path d="M5.600 24.800H42.400M5.600 33.200H42.400" stroke="#5a5048" stroke-width="0.500"/><path d="M5.600 35.700H42.400" stroke="#8a8078" stroke-width="0.500" stroke-dasharray="1 0.600"/></svg></div><div class="pn"><span class="t" style="width:287.50px"><span style="transform:scaleX(0.8260)">CORRIENTE DE PENSAMIENTO BONAERENSE</span></span></div><div class="pr"><b class="pct"><span class="t" style="width:44.30px"><span style="transform:scaleX(1.0772)">0,04%</span></span></b><span class="pv"><span class="t" style="width:53.60px"><span style="transform:scaleX(1.0125)">69 votos</span></span></span></div><svg class="ic" width="14" height="14" viewBox="0 0 14 14"><circle cx="7" cy="7" r="5.95" fill="none" stroke="#444" stroke-width="1.3"/><path d="M3.9 7H10.1" stroke="#444" stroke-width="1.4"/></svg></header>
<ul class="rows">
<li class="row"><div class="track"><div class="fill" style="width:100.000%;background:#68db9c"></div></div><div class="rl"><span class="ln"><span class="t" style="width:293.40px"><span style="transform:scaleX(0.8888)">CORRIENTE DE PENSAMIENTO AUTENTICA</span></span></span><span class="lv"><span class="t" style="width:58.10px"><span style="transform:scaleX(0.9181)">69 votos</span></span></span></div></li>
</ul></section>
<section class="party">
<header class="ph"><div class="logo"><svg width="48" height="48" viewBox="0 0 48 48"><path d="M21.96 9.05A10.0 10.0 0 0 1 33.60 17.51" fill="none" stroke="#4aa840" stroke-width="7.6"/><path d="M33.55 17.16A10.0 10.0 0 0 1 25.09 28.80" fill="none" stroke="#3f9c3c" stroke-width="7.6"/><path d="M25.44 28.75A10.0 10.0 0 0 1 13.80 20.29" fill="none" stroke="#2f8a34" stroke-width="7.6"/><path d="M13.85 20.64A10.0 10.0 0 0 1 22.31 9.00" fill="none" stroke="#58b048" stroke-width="7.6"/><path d="M26.24 14.13Q31.18 11.68 37.98 21.94" fill="none" stroke="#fff" stroke-width="2"/><path d="M28.47 21.44Q30.92 26.38 20.66 33.18" fill="none" stroke="#fff" stroke-width="2"/><path d="M21.16 23.67Q16.22 26.12 9.42 15.86" fill="none" stroke="#fff" stroke-width="2"/><path d="M18.93 16.36Q16.48 11.42 26.74 4.62" fill="none" stroke="#fff" stroke-width="2"/><rect x="18.90" y="14.10" width="9.6" height="9.6" rx="2.6" fill="#fff" transform="rotate(12 23.70 18.90)"/><path d="M5.400 25.400c.4 4.600 2.600 8 6.600 10.400 4 2.400 7.600 5 9.800 9.800l1.600-.2c.8-4-.6-7.800-3.600-10.400-2-1.800-4.600-2.600-7.400-2.600 2 1 4 2 5.400 3.800-3.600-1-6.600-2.800-8.800-5.600-1.200-1.600-2-3.400-3.600-5.200z" fill="#4aa840"/><path d="M42.200 25.400c-.4 4.600-2.600 8-6.600 10.400-4 2.400-7.600 5-9.800 9.800l-1.600-.2c-.8-4 .6-7.800 3.600-10.400 2-1.800 4.600-2.600 7.400-2.600-2 1-4 2-5.400 3.800 3.600-1 6.600-2.800 8.800-5.600 1.200-1.600 2-3.400 3.600-5.200z" fill="#3f9c3c"/><path d="M7.600 10.600C11 5.400 17 2.600 23.600 2.800c6 .2 10.600 3 13.800 7" fill="none" stroke="#7abf6a" stroke-width="1.200" stroke-dasharray="1.400 0.500"/><path d="M38.600 13c1.800 4 2.200 8 1.200 12" fill="none" stroke="#e8e23a" stroke-width="1" stroke-dasharray="1.200 1"/></svg></div><div class="pn"><span class="t" style="width:163.50px"><span style="transform:scaleX(0.8373)">ESPERANZA DEL PUEBLO</span></span></div><div class="pr"><b class="pct"><span class="t" style="width:41.60px"><span style="transform:scaleX(1.0116)">0,01%</span></span></b><span class="pv"><span class="t" style="width:45.10px"><span style="transform:scaleX(0.9991)">7 votos</span></span></span></div><svg class="ic" width="14" height="14" viewBox="0 0 14 14"><circle cx="7" cy="7" r="5.95" fill="none" stroke="#444" stroke-width="1.3"/><path d="M3.9 7H10.1" stroke="#444" stroke-width="1.4"/></svg></header>
<ul class="rows">
<li class="row"><div class="track"><div class="fill" style="width:100.000%;background:#e8623a"></div></div><div class="rl"><span class="ln"><span class="t" style="width:82.60px"><span style="transform:scaleX(0.8587)">ESPERANZA</span></span></span><span class="lv"><span class="t" style="width:48.30px"><span style="transform:scaleX(0.8847)">7 votos</span></span></span></div></li>
</ul></section>
<section class="party">
<header class="ph"><div class="logo"><svg width="48" height="48" viewBox="0 0 48 48"><circle cx="24" cy="24" r="20.100" fill="#fff" stroke="#1787d4" stroke-width="2.900"/><path d="M13.300 33.500A14 14 0 1 1 34.700 33.500" fill="none" stroke="#86ccf2" stroke-width="1.100"/><path d="M21 7.800c-1 2.600-.6 5 .8 7.200M20.400 11.400c1.600 1.200 2.400 2.800 2.600 5M19.800 14.800c1.800.8 3 2.200 3.400 4.200" stroke="#2a4a78" stroke-width="1.200" fill="none" stroke-linecap="round"/><path d="M24.600 16.600c1.400-1.800 3-2.400 4.800-2M27 20.600c0-2.400 1-4.400 3-5.800M28 21c1.400-2.200 3-3.600 5-4.200" stroke="#5ab0e8" stroke-width="1.200" fill="none" stroke-linecap="round"/><path d="M23.600 16.600c.6 1.800.4 3.400-.4 4.800M26 17.600c.2 1.600-.2 3-1 4.200" stroke="#44628c" stroke-width="0.900" fill="none" stroke-linecap="round"/><g font-family="Liberation Sans, sans-serif" font-weight="700"><text x="14.400" y="28" font-size="8" fill="#111" stroke="#111" stroke-width="0.300" textLength="19.200" lengthAdjust="spacingAndGlyphs">Liber</text><text x="20" y="33.100" font-size="5.400" fill="#1787d4" stroke="#1787d4" stroke-width="0.300" textLength="8" lengthAdjust="spacingAndGlyphs">AR</text></g><rect x="16.200" y="34.200" width="15.600" height="0.950" fill="#1787d4"/></svg></div><div class="pn"><span class="t" style="width:59.20px"><span style="transform:scaleX(0.8329)">LIBER.AR</span></span></div><div class="pr"><b class="pct"><span class="t" style="width:41.60px"><span style="transform:scaleX(1.0116)">0,01%</span></span></b><span class="pv"><span class="t" style="width:45.10px"><span style="transform:scaleX(0.9991)">7 votos</span></span></span></div><svg class="ic" width="14" height="14" viewBox="0 0 14 14"><circle cx="7" cy="7" r="5.95" fill="none" stroke="#444" stroke-width="1.3"/><path d="M3.9 7H10.1" stroke="#444" stroke-width="1.4"/></svg></header>
<ul class="rows">
<li class="row"><div class="track"><div class="fill" style="width:100.000%;background:#7b98c1"></div></div><div class="rl"><span class="ln"><span class="t" style="width:144.90px"><span style="transform:scaleX(0.8881)">C- ANTICORRUPCIÓN</span></span></span><span class="lv"><span class="t" style="width:48.30px"><span style="transform:scaleX(0.8847)">7 votos</span></span></span></div></li>
</ul></section>
<section class="party">
<header class="ph"><div class="logo"><svg width="48" height="48" viewBox="0 0 48 48"><rect width="48" height="48" fill="#c6ccd9"/><g fill="none" stroke="#e6e9f0" stroke-width="1.6"><circle cx="17.5" cy="16.2" r="5.2"/><path d="M6.9 37V31.6C6.9 27.200 10.200 24 14.600 24H22.200C26.600 24 29.900 27.200 29.900 31.600V37Z"/><circle cx="32.4" cy="14.400" r="4.300"/><path d="M29.600 21.800H33.600C37.200 21.800 39.800 24.400 39.800 28V31.800H32"/></g></svg></div><div class="pn two"><span class="t" style="width:458.10px"><span style="transform:scaleX(0.8347)">FRENTE FEDERAL DE ACCION SOLIDARIA DE LA PROVINCIA DE BUENOS</span></span><br><span class="t" style="width:40.20px"><span style="transform:scaleX(0.8590)">AIRES</span></span></div><div class="pr"><b class="pct"><span class="t" style="width:41.60px"><span style="transform:scaleX(1.0116)">0,01%</span></span></b><span class="pv"><span class="t" style="width:45.00px"><span style="transform:scaleX(0.9969)">3 votos</span></span></span></div><svg class="ic" width="14" height="14" viewBox="0 0 14 14"><circle cx="7" cy="7" r="5.95" fill="none" stroke="#444" stroke-width="1.3"/><path d="M3.9 7H10.1" stroke="#444" stroke-width="1.4"/></svg></header>
<ul class="rows">
<li class="row"><div class="track"><div class="fill" style="width:100.000%;background:#17745a"></div></div><div class="rl"><span class="ln"><span class="t" style="width:165.50px"><span style="transform:scaleX(0.8789)">ACCION Y SOLIDARIDAD</span></span></span><span class="lv"><span class="t" style="width:49.30px"><span style="transform:scaleX(0.9030)">3 votos</span></span></span></div></li>
</ul></section>
</div>
<div class="sq" style="left:29px;top:3075px"></div>
<h2 class="ttl" style="left:52px;top:3064.9px"><span class="t" style="width:247.00px"><span style="transform:scaleX(0.8782)">Información De Participación</span></span></h2>
<p class="sub" style="left:52.6px;top:3100.4px"><span class="t" style="width:99.60px"><span style="transform:scaleX(0.9506)">Estadística Global</span></span></p>
<div class="hr" style="top:3134px"></div>
<div class="abs h3" style="left:47.2px;top:3160.49px;font-size:16.2px;line-height:21px;font-weight:700;color:#111"><span class="t" style="width:77.50px"><span style="transform:scaleX(0.9789)">Escrutado</span></span></div>
<div class="bl" style="left:47px;top:3197px;width:321px"></div>
<div class="abs lab" style="left:47.4px;top:3214.87px;font-size:12.2px;line-height:16px;font-weight:400;color:#444"><span class="t" style="width:34.60px"><span style="transform:scaleX(0.9636)">Mesas</span></span></div>
<div class="abs val" style="left:47.4px;top:3237.40px;font-size:15px;line-height:20px;font-weight:700;color:#111"><span class="t" style="width:52.20px"><span style="transform:scaleX(1.0260)">98,30%</span></span></div>
<div class="abs det" style="right:416.2px;top:3238.83px;font-size:12.6px;line-height:16px;font-weight:400;color:#444"><span class="t" style="width:58.00px"><span style="transform:scaleX(0.9202)">697 de 709</span></span></div>
<div class="abs lab" style="left:47.4px;top:3290.87px;font-size:12.2px;line-height:16px;font-weight:400;color:#444"><span class="t" style="width:48.50px"><span style="transform:scaleX(0.9545)">Electores</span></span></div>
<div class="abs val" style="left:47.4px;top:3313.40px;font-size:15px;line-height:20px;font-weight:700;color:#111"><span class="t" style="width:50.00px"><span style="transform:scaleX(0.9828)">98,32%</span></span></div>
<div class="abs det" style="right:416.2px;top:3314.83px;font-size:12.6px;line-height:16px;font-weight:400;color:#444"><span class="t" style="width:101.50px"><span style="transform:scaleX(0.9057)">246.220 de 250.423</span></span></div>
<div class="abs lab" style="left:47.4px;top:3366.87px;font-size:12.2px;line-height:16px;font-weight:400;color:#444"><span class="t" style="width:68.70px"><span style="transform:scaleX(0.9845)">Participación</span></span></div>
<div class="abs val" style="left:47.4px;top:3389.40px;font-size:15px;line-height:20px;font-weight:700;color:#111"><span class="t" style="width:48.80px"><span style="transform:scaleX(0.9592)">68,31%</span></span></div>
<div class="abs det" style="right:416.2px;top:3390.83px;font-size:12.6px;line-height:16px;font-weight:400;color:#444"><span class="t" style="width:99.20px"><span style="transform:scaleX(0.8852)">168.215 de 246.220</span></span></div>
<div class="abs h3" style="left:429.4px;top:3160.89px;font-size:16.2px;line-height:21px;font-weight:700;color:#111"><span class="t" style="width:45.00px"><span style="transform:scaleX(1.0282)">Votos</span></span></div>
<div class="bl" style="left:430px;top:3197px;width:320px"></div>
<div class="lsq" style="left:430px;top:3219.8px;background:#3bb8ea"></div>
<div class="abs vl" style="left:453.6px;top:3216.70px;font-size:12.4px;line-height:16px;font-weight:400;color:#333"><span class="t" style="width:61.40px"><span style="transform:scaleX(1.0019)">Afirmativos</span></span></div>
<div class="abs vn" style="right:114.5px;top:3214.00px;font-size:15px;line-height:20px;font-weight:400;color:#444"><span class="t" style="width:45.40px"><span style="transform:scaleX(0.8371)">155.033</span></span></div>
<div class="abs vp" style="right:34.4px;top:3214.00px;font-size:15px;line-height:20px;font-weight:700;color:#111"><span class="t" style="width:47.20px"><span style="transform:scaleX(0.9278)">92,16%</span></span></div>
<div class="lsq" style="left:430px;top:3272.1px;background:#e9c857"></div>
<div class="abs vl" style="left:453.6px;top:3269.00px;font-size:12.4px;line-height:16px;font-weight:400;color:#333"><span class="t" style="width:51.30px"><span style="transform:scaleX(0.9306)">En blanco</span></span></div>
<div class="abs vn" style="right:114.5px;top:3266.30px;font-size:15px;line-height:20px;font-weight:400;color:#444"><span class="t" style="width:39.60px"><span style="transform:scaleX(0.8846)">11.004</span></span></div>
<div class="abs vp" style="right:34.4px;top:3266.30px;font-size:15px;line-height:20px;font-weight:700;color:#111"><span class="t" style="width:42.50px"><span style="transform:scaleX(0.9989)">6,54%</span></span></div>
<div class="abs vv" style="left:429.6px;top:3317.70px;font-size:15px;line-height:20px;font-weight:700;color:#111"><span class="t" style="width:88.60px"><span style="transform:scaleX(0.9034)">Votos Válidos</span></span></div>
<div class="abs vn" style="right:114.5px;top:3317.70px;font-size:15px;line-height:20px;font-weight:400;color:#444"><span class="t" style="width:46.20px"><span style="transform:scaleX(0.8519)">166.037</span></span></div>
<div class="abs vp" style="right:34.4px;top:3317.70px;font-size:15px;line-height:20px;font-weight:700;color:#111"><span class="t" style="width:51.00px"><span style="transform:scaleX(1.0025)">98,70%</span></span></div>
<div class="gl" style="left:483px;top:3386px;width:213.5px"></div>
<div class="lsq" style="left:430px;top:3442.7px;background:#6b6b6b"></div>
<div class="abs vl" style="left:453.6px;top:3439.70px;font-size:12.4px;line-height:16px;font-weight:400;color:#333"><span class="t" style="width:61.80px"><span style="transform:scaleX(0.9644)">Votos nulos</span></span></div>
<div class="abs vn" style="right:114.5px;top:3436.80px;font-size:15px;line-height:20px;font-weight:400;color:#444"><span class="t" style="width:32.60px"><span style="transform:scaleX(0.8682)">1.936</span></span></div>
<div class="abs vp" style="right:34.4px;top:3436.80px;font-size:15px;line-height:20px;font-weight:700;color:#111"><span class="t" style="width:36.70px"><span style="transform:scaleX(0.8626)">1,15%</span></span></div>
<div class="lsq" style="left:430px;top:3500.2px;background:#111"></div>
<div class="abs vl" style="left:453.6px;top:3489.40px;font-size:12.4px;line-height:16px;font-weight:400;color:#333"><span class="t" style="width:89.70px"><span style="transform:scaleX(0.9647)">Votos recurridos,</span></span></div>
<div class="abs vl" style="left:453.6px;top:3505.00px;font-size:12.4px;line-height:16px;font-weight:400;color:#333"><span class="t" style="width:125.40px"><span style="transform:scaleX(0.9532)">impugnados y comando</span></span></div>
<div class="abs vn" style="right:114.5px;top:3494.70px;font-size:15px;line-height:20px;font-weight:400;color:#444"><span class="t" style="width:21.70px"><span style="transform:scaleX(0.8669)">242</span></span></div>
<div class="abs vp" style="right:34.4px;top:3494.70px;font-size:15px;line-height:20px;font-weight:700;color:#111"><span class="t" style="width:39.40px"><span style="transform:scaleX(0.9260)">0,14%</span></span></div>
<svg class="donut" style="position:absolute;left:0;top:3590px" width="784" height="330" viewBox="0 0 784 330"><path d="M398.80 15.00A145.0 145.0 0 1 1 330.26 32.22L359.47 86.68A83.2 83.2 0 1 0 398.80 76.80Z" fill="#38b9eb"/><path d="M330.26 32.22A145.0 145.0 0 0 1 387.02 15.48L392.04 77.08A83.2 83.2 0 0 0 359.47 86.68Z" fill="#e9c859"/><path d="M387.02 15.48A145.0 145.0 0 0 1 397.49 15.01L398.05 76.80A83.2 83.2 0 0 0 392.04 77.08Z" fill="#6a6a6a"/><path d="M397.49 15.01A145.0 145.0 0 0 1 398.80 15.00L398.80 76.80A83.2 83.2 0 0 0 398.05 76.80Z" fill="#111111"/></svg>
</div>
</body></html>
